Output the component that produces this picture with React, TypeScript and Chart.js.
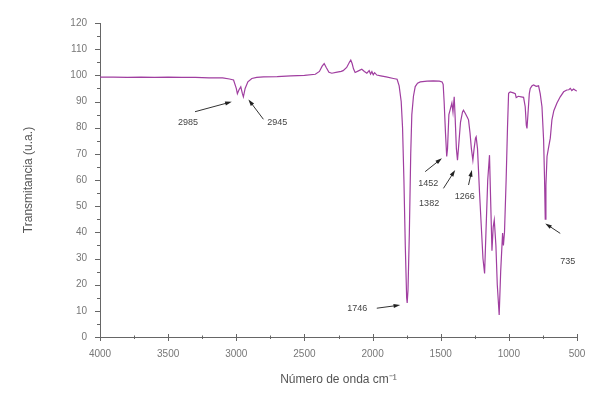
import React, { useEffect, useRef } from "react";
import { Chart, registerables } from "chart.js";

Chart.register(...registerables);

// Wavenumbers (cm^-1) and transmittance (u.a.)
const wavenumbers = [
  4000, 3900, 3800, 3700, 3600, 3500, 3400, 3300, 3200, 3100, 3050, 3020, 3000, 2992, 2980, 2967, 2955, 2948, 2935, 2915,
  2886, 2850, 2800, 2700, 2600, 2500, 2420, 2390, 2370, 2355, 2340, 2320, 2299, 2260, 2230, 2216, 2190, 2170, 2160, 2150,
  2140, 2128, 2100, 2079, 2060, 2042, 2025, 2015, 2005, 1995, 1985, 1969, 1940, 1900, 1847, 1820, 1805, 1790, 1780, 1770,
  1760, 1750, 1746, 1740, 1730, 1720, 1712, 1700, 1687, 1670, 1650, 1600, 1555, 1510, 1490, 1482, 1475, 1465, 1456, 1450,
  1440, 1430, 1418, 1410, 1401, 1395, 1385, 1377, 1370, 1355, 1340, 1333, 1320, 1305, 1296, 1285, 1275, 1264, 1255, 1245,
  1240, 1230, 1215, 1200, 1190, 1178, 1168, 1155, 1142, 1135, 1124, 1115, 1107, 1095, 1085, 1071, 1060, 1046, 1040, 1032,
  1020, 1010, 1002, 990, 967, 953, 946, 930, 910, 892, 880, 872, 867, 860, 850, 843, 830, 818, 800, 782,
  770, 757, 745, 738, 733, 728, 720, 710, 696, 684, 670, 647, 623, 598, 575, 560, 549, 538, 525, 510,
  500,
];
const transmittance = [
  99.3, 99.3, 99.2, 99.3, 99.2, 99.3, 99.2, 99.2, 99.0, 99.0, 98.6, 98.2, 95, 93, 94.5, 95.6, 93, 91.8, 95, 97.5,
  98.8, 99.2, 99.4, 99.5, 99.8, 100, 100.4, 101.5, 103.5, 104.5, 103, 101.2, 100.8, 101.2, 101.5, 101.8, 103, 105, 105.8, 104.5,
  102.5, 101.1, 101.8, 102.3, 101.5, 100.8, 101.8, 100.5, 101.4, 100.2, 101, 100.1, 99.8, 99.4, 98.8, 98.5, 96, 90, 80, 60,
  35, 15, 13, 18, 40, 70, 85, 92, 95.7, 97, 97.5, 97.8, 97.9, 97.8, 97.5, 96.5, 90, 78, 69, 72,
  85, 87, 89.4, 86, 91.8, 85, 72, 67.6, 72, 82, 86, 86.7, 85.5, 84, 83, 78, 72, 67.6, 72, 76,
  76.5, 72, 55, 40, 30, 24.3, 40, 60, 69.5, 55, 33, 42, 44.7, 35, 20, 8.4, 25, 39.7, 35, 40,
  60, 80, 93.1, 93.7, 93.3, 93, 91.5, 92, 91.8, 91.6, 88, 81, 79.7, 85, 93, 95, 96, 96.3, 95.8, 96,
  93, 88, 75.3, 60, 45, 58, 69, 72, 76, 83, 86.5, 89.4, 91.8, 93.7, 94.4, 94.5, 95, 94.2, 94.8, 94.2,
  94,
];

// Peak annotations: label text, label anchor, arrow tail, arrow head (data units)
const peakLabels = ["2985", "2945", "1746", "1452", "1382", "1266", "735"];
const labelAt = [
  [3354, 81.8], [2700, 81.8], [2113, 10.7], [1592, 58.8], [1585, 51.2], [1324, 53.6], [568, 28.8],
];
const arrowFrom = [
  [3303, 86.1], [2801, 83.2], [1969, 11], [1614, 63.2], [1480, 56.8], [1296, 58.1], [623, 39.6],
];
const arrowTo = [
  [3033, 89.9], [2911, 90.8], [1797, 12.2], [1491, 68.3], [1394, 63.8], [1271, 63.8], [733, 43.4],
];

const xMajorTicks = [4000, 3500, 3000, 2500, 2000, 1500, 1000, 500];
const yMajorTicks = [0, 10, 20, 30, 40, 50, 60, 70, 80, 90, 100, 110, 120];

const FONT = "'Liberation Sans', Arial, sans-serif";

const extrasPlugin = {
  id: "extras",
  afterDatasetsDraw(chart: any) {
    const ctx = chart.ctx;
    const xs = chart.scales.x;
    const ys = chart.scales.y;
    const axisY = ys.getPixelForValue(0);
    const axisX = xs.getPixelForValue(4000);
    ctx.save();
    ctx.strokeStyle = "#666";
    ctx.lineWidth = 1;
    // x ticks
    xMajorTicks.forEach((v, i) => {
      const px = Math.round(xs.getPixelForValue(v)) + 0.5;
      ctx.beginPath();
      ctx.moveTo(px, axisY - 3);
      ctx.lineTo(px, axisY + 4);
      ctx.stroke();
      if (i < xMajorTicks.length - 1) {
        const pm = Math.round(xs.getPixelForValue(v - 250)) + 0.5;
        ctx.beginPath();
        ctx.moveTo(pm, axisY - 1.5);
        ctx.lineTo(pm, axisY + 2);
        ctx.stroke();
      }
    });
    // y ticks
    yMajorTicks.forEach((v, i) => {
      const py = Math.round(ys.getPixelForValue(v)) + 0.5;
      ctx.beginPath();
      ctx.moveTo(axisX - 5, py);
      ctx.lineTo(axisX, py);
      ctx.stroke();
      if (i < yMajorTicks.length - 1) {
        const pm = Math.round(ys.getPixelForValue(v + 5)) + 0.5;
        ctx.beginPath();
        ctx.moveTo(axisX - 3, pm);
        ctx.lineTo(axisX, pm);
        ctx.stroke();
      }
    });
    // annotations
    ctx.fillStyle = "#444";
    ctx.strokeStyle = "#333";
    ctx.font = `9px ${FONT}`;
    ctx.textAlign = "center";
    ctx.textBaseline = "middle";
    peakLabels.forEach((t, i) => {
      const lx = xs.getPixelForValue(labelAt[i][0]);
      const ly = ys.getPixelForValue(labelAt[i][1]);
      ctx.fillText(t, lx, ly);
      const x1 = xs.getPixelForValue(arrowFrom[i][0]);
      const y1 = ys.getPixelForValue(arrowFrom[i][1]);
      const x2 = xs.getPixelForValue(arrowTo[i][0]);
      const y2 = ys.getPixelForValue(arrowTo[i][1]);
      const ang = Math.atan2(y2 - y1, x2 - x1);
      const hl = 7;
      ctx.beginPath();
      ctx.moveTo(x1, y1);
      ctx.lineTo(x2 - Math.cos(ang) * hl * 0.6, y2 - Math.sin(ang) * hl * 0.6);
      ctx.lineWidth = 1;
      ctx.stroke();
      ctx.beginPath();
      ctx.moveTo(x2, y2);
      ctx.lineTo(x2 - hl * Math.cos(ang - 0.3), y2 - hl * Math.sin(ang - 0.3));
      ctx.lineTo(x2 - hl * Math.cos(ang + 0.3), y2 - hl * Math.sin(ang + 0.3));
      ctx.closePath();
      ctx.fillStyle = "#222";
      ctx.fill();
      ctx.fillStyle = "#444";
    });
    ctx.restore();
  },
};

export default function App() {
  const ref = useRef<HTMLCanvasElement | null>(null);
  useEffect(() => {
    if (!ref.current) return;
    const points = wavenumbers.map((w, i) => ({ x: w, y: transmittance[i] }));
    const chart = new Chart(ref.current, {
      type: "line",
      data: {
        datasets: [
          {
            data: points,
            borderColor: "rgb(160,62,160)",
            borderWidth: 1.2,
            pointRadius: 0,
            tension: 0,
            fill: false,
          },
        ],
      },
      options: {
        responsive: false,
        animation: false,
        layout: { padding: { left: 0, right: 22, top: 23, bottom: 0 } },
        plugins: { legend: { display: false }, tooltip: { enabled: false } },
        scales: {
          x: {
            type: "linear",
            reverse: true,
            min: 500,
            max: 4000,
            afterFit: (s: any) => {
              s.height = 63;
            },
            afterBuildTicks: (s: any) => {
              s.ticks = xMajorTicks.map((v) => ({ value: v }));
            },
            grid: { display: false },
            border: { display: true, color: "#666", width: 1 },
            ticks: {
              font: { family: FONT, size: 10 },
              color: "#777",
              padding: 3,
              maxRotation: 0,
              autoSkip: false,
              callback: (v: any) => String(v),
            },
            title: {
              display: true,
              text: "Número de onda cm⁻¹",
              font: { family: FONT, size: 12 },
              color: "#555",
              padding: { top: 0, bottom: 13 },
            },
          },
          y: {
            min: 0,
            max: 120,
            afterFit: (s: any) => {
              s.width = 100;
            },
            afterBuildTicks: (s: any) => {
              s.ticks = yMajorTicks.map((v) => ({ value: v }));
            },
            grid: { display: false },
            border: { display: true, color: "#666", width: 1 },
            ticks: {
              font: { family: FONT, size: 10 },
              color: "#777",
              padding: 5,
              autoSkip: false,
            },
            title: {
              display: true,
              text: "Transmitancia (u.a.)",
              font: { family: FONT, size: 12 },
              color: "#555",
              padding: { top: 21, bottom: 0 },
            },
          },
        },
      },
      plugins: [extrasPlugin],
    });
    return () => chart.destroy();
  }, []);
  return (
    <div style={{ position: "absolute", left: 0, top: 0, width: 599, height: 400, background: "#fff" }}>
      <canvas ref={ref} width={599} height={400} />
    </div>
  );
}
